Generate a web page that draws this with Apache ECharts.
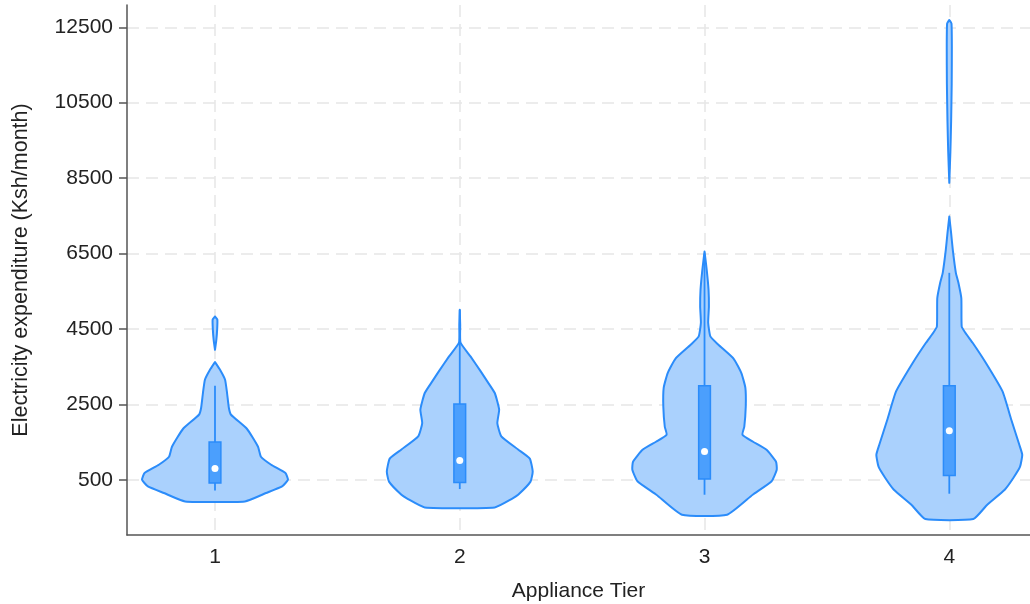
<!DOCTYPE html>
<html>
<head>
<meta charset="utf-8">
<script src="https://cdn.jsdelivr.net/npm/echarts@6/dist/echarts.min.js"></script>
<style>html,body{margin:0;padding:0;background:#fff}#c{width:1030px;height:604px}</style>
</head>
<body>
<div id="c"></div>
<script>
// ---- data ----
const tiers = [1, 2, 3, 4];
const yTicks = [500, 2500, 4500, 6500, 8500, 10500, 12500];

// violin outlines: expenditure values (bottom to top) and relative density (max = 1)
// a density of 0 closes a piece of the outline
const tier1Values  = [-75, 147, 322, 500, 678, 898, 1110, 1375, 1852, 2223, 2409, 2806, 3151, 3416, 3620, 3946, 4200, 4500, 4750, 4830];
const tier1Density = [0.41, 0.70, 0.92, 1.0, 0.966, 0.77, 0.63, 0.59, 0.437, 0.22, 0.19, 0.165, 0.138, 0.069, 0.0, 0.0, 0.018, 0.03, 0.032, 0.0];

const tier2Values  = [-234, 0, 100, 450, 720, 1060, 1300, 1650, 2000, 2360, 2800, 3115, 3380, 3770, 4140, 4600, 5007];
const tier2Density = [0.48, 0.72, 0.80, 0.97, 1.0, 0.96, 0.80, 0.57, 0.515, 0.54, 0.48, 0.375, 0.285, 0.147, 0.01, 0.006, 0.0];

const tier3Values  = [-428, 102, 460, 765, 977, 1295, 1507, 1693, 1905, 2435, 2939, 3329, 3708, 4079, 4300, 4662, 5086, 5537, 6067, 6553];
const tier3Density = [0.31, 0.66, 0.92, 0.99, 0.98, 0.85, 0.665, 0.52, 0.545, 0.565, 0.56, 0.505, 0.40, 0.19, 0.08, 0.05, 0.06, 0.055, 0.03, 0.0];

const tier4Values  = [-542, -163, 235, 553, 845, 1163, 1428, 2091, 2841, 3602, 4132, 4397, 4564, 5312, 5723, 5988, 6597, 7040, 7480, 8374, 9200, 10000, 11000, 12000, 12600, 12695];
const tier4Density = [0.33, 0.52, 0.76, 0.88, 0.97, 1.0, 0.96, 0.85, 0.73, 0.50, 0.32, 0.22, 0.17, 0.165, 0.125, 0.09, 0.048, 0.025, 0.0, 0.0, 0.015, 0.025, 0.033, 0.035, 0.03, 0.0];

// box plot statistics
const whiskerLow  = [216, 253, 102, 129];
const q1          = [412, 429, 518, 614];
const median      = [800, 1012, 1250, 1799];
const q3          = [1499, 2507, 2992, 2992];
const whiskerHigh = [2992, 5007, 6500, 5988];

// ---- chart ----
const violinValues = [tier1Values, tier2Values, tier3Values, tier4Values];
const violinDensity = [tier1Density, tier2Density, tier3Density, tier4Density];
const HALF = 0.298;     // max half-width of a violin in x units
const BOX_HALF = 0.024; // half-width of box

const FONT = "'Liberation Sans', Arial, sans-serif";
const gridLine = { show: true, lineStyle: { color: '#e6e6e6', width: 1.5, type: [12, 7] } };
const VIOLIN_STYLE = { fill: '#aad1fd', stroke: '#2b8cfa', lineWidth: 2, lineJoin: 'round' };

function splitPieces(vals, dens) {
  // split the outline into pieces separated by zero-density points
  const pieces = [];
  let cur = [];
  for (let k = 0; k < vals.length; k++) {
    cur.push(k);
    if (dens[k] === 0 && cur.length > 1) {
      pieces.push(cur);
      cur = [k];
    }
  }
  if (cur.length > 1) pieces.push(cur);
  return pieces.filter(p => p.some(k => dens[k] > 0));
}

const chart = echarts.init(document.getElementById('c'), null, { renderer: 'canvas' });
chart.setOption({
  animation: false,
  backgroundColor: '#fff',
  grid: { left: 127, right: 0, top: 5, bottom: 69, containLabel: false, outerBoundsMode: 'none' },
  xAxis: {
    type: 'value', min: 0.6405, max: 4.3297,
    name: 'Appliance Tier', nameLocation: 'middle', nameGap: 46,
    nameTextStyle: { fontFamily: FONT, fontSize: 21, color: '#222' },
    axisLine: { show: true, onZero: false, lineStyle: { color: '#555', width: 1.5 } },
    axisTick: { show: false, customValues: tiers },
    axisLabel: { customValues: tiers, fontFamily: FONT, fontSize: 21, color: '#222', margin: 12 },
    splitLine: gridLine
  },
  yAxis: {
    type: 'value', min: -966, max: 13091,
    name: 'Electricity expenditure (Ksh/month)', nameLocation: 'middle', nameGap: 95,
    nameTextStyle: { fontFamily: FONT, fontSize: 21.5, color: '#222' },
    axisLine: { show: true, onZero: false, lineStyle: { color: '#555', width: 1.5 } },
    axisTick: { show: true, customValues: yTicks, length: 8, lineStyle: { color: '#555', width: 1.5 } },
    axisLabel: { customValues: yTicks, formatter: v => String(v), fontFamily: FONT, fontSize: 21, color: '#222', margin: 14 },
    splitLine: gridLine
  },
  series: [
    {
      type: 'custom',
      coordinateSystem: 'cartesian2d',
      data: tiers.map(t => [t]),
      renderItem: function (params, api) {
        const i = params.dataIndex;
        const cx = api.value(0);
        const vals = violinValues[i], dens = violinDensity[i];
        const children = splitPieces(vals, dens).map(piece => {
          const right = [], left = [];
          piece.forEach(k => {
            right.push(api.coord([cx + dens[k] * HALF, vals[k]]));
            left.push(api.coord([cx - dens[k] * HALF, vals[k]]));
          });
          return {
            type: 'polygon',
            shape: { points: right.concat(left.reverse()), smooth: 0.15 },
            style: VIOLIN_STYLE
          };
        });
        return { type: 'group', children: children };
      }
    },
    {
      type: 'custom',
      coordinateSystem: 'cartesian2d',
      data: tiers.map((t, i) => [t, whiskerLow[i], q1[i], median[i], q3[i], whiskerHigh[i]]),
      renderItem: function (params, api) {
        const cx = api.value(0);
        const lo = api.coord([cx, api.value(1)]);
        const hi = api.coord([cx, api.value(5)]);
        const b1 = api.coord([cx - BOX_HALF, api.value(4)]);
        const b2 = api.coord([cx + BOX_HALF, api.value(2)]);
        const md = api.coord([cx, api.value(3)]);
        return {
          type: 'group',
          children: [
            { type: 'line', shape: { x1: lo[0], y1: lo[1], x2: hi[0], y2: hi[1] },
              style: { stroke: '#2b8cfa', lineWidth: 1.8 } },
            { type: 'rect', shape: { x: b1[0], y: b1[1], width: b2[0] - b1[0], height: b2[1] - b1[1] },
              style: { fill: '#4b9ffd', stroke: '#2b8cfa', lineWidth: 1.5 } },
            { type: 'circle', shape: { cx: md[0], cy: md[1], r: 3.5 },
              style: { fill: '#fff' } }
          ]
        };
      }
    }
  ]
});
</script>
</body>
</html>
